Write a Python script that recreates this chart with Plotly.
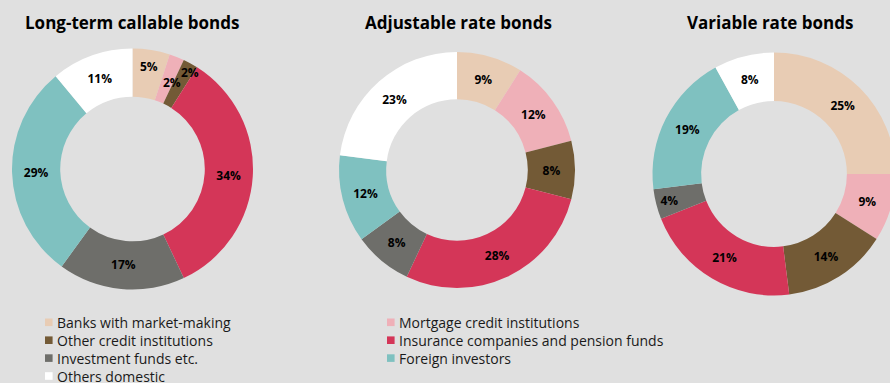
import math
import plotly.graph_objects as go

# Holder categories (same order in every donut, drawn clockwise from 12 o'clock)
categories = [
    "Banks with market-making",
    "Mortgage credit institutions",
    "Other credit institutions",
    "Insurance companies and pension funds",
    "Investment funds etc.",
    "Foreign investors",
    "Others domestic",
]
colors = ["#E8CCB4", "#EFB0B8", "#735A36", "#D43658", "#6E6E6A", "#7FC1C0", "#FFFFFF"]

titles = ["Long-term callable bonds", "Adjustable rate bonds", "Variable rate bonds"]
long_term_callable = [5, 2, 2, 34, 17, 29, 11]
adjustable_rate = [9, 12, 8, 28, 8, 12, 23]
variable_rate = [25, 9, 14, 21, 4, 19, 8]
series = [long_term_callable, adjustable_rate, variable_rate]

# Page geometry in pixels
W, H = 896, 383
BG = "#E0E0E0"
# (centre x, centre y, outer radius) of each donut
donuts = [(132.5, 169, 120.5), (457, 170, 118), (774, 174, 121.5)]
title_x = [132, 458, 770]
title_y = 23
# labels of thin slices placed by hand: (donut, slice) -> (radial factor, extra angle in degrees)
label_push = {(0, 1): (0.785, 3.0), (0, 2): (0.935, 2.0)}

LABEL_FONT = dict(family="Open Sans", size=12, color="#000000", weight="bold")


def px_x(x):
    return x / W


def px_y(y):
    return 1 - y / H


fig = go.Figure()
annotations = []

for d, (vals, (cx, cy, r)) in enumerate(zip(series, donuts)):
    texts = []
    for i, v in enumerate(vals):
        texts.append("" if (d, i) in label_push else f"{v}%")
    fig.add_trace(go.Pie(
        labels=categories,
        values=vals,
        text=texts,
        textinfo="text",
        textposition="inside",
        insidetextorientation="horizontal",
        textfont=LABEL_FONT,
        sort=False,
        direction="clockwise",
        rotation=0,
        hole=0.6,
        marker=dict(colors=colors, line=dict(width=0)),
        showlegend=False,
        hoverinfo="label+percent",
        domain=dict(x=[px_x(cx - r), px_x(cx + r)], y=[px_y(cy + r), px_y(cy - r)]),
    ))

    # hand-placed labels, positioned from the slice's mid angle
    total = sum(vals)
    cum = 0
    for i, v in enumerate(vals):
        if (d, i) in label_push:
            rf, dang = label_push[(d, i)]
            theta = 2 * math.pi * (cum + v / 2) / total + math.radians(dang)
            rr = r * rf
            annotations.append(dict(
                x=px_x(cx + rr * math.sin(theta)), y=px_y(cy - rr * math.cos(theta)),
                xref="paper", yref="paper", text=f"{v}%", showarrow=False,
                xanchor="center", yanchor="middle", font=LABEL_FONT,
            ))
        cum += v

    annotations.append(dict(
        x=px_x(title_x[d]), y=px_y(title_y), xref="paper", yref="paper",
        text=titles[d], showarrow=False, xanchor="center", yanchor="middle",
        font=dict(family="Open Sans", size=17, color="#000000", weight="bold"),
    ))

# Legend: two columns, filled row by row
leg_col_x = [45, 387]
leg_row_y0, leg_row_dy = 322.3, 17.9
sq = 7.6
shapes = []
for k, (name, col) in enumerate(zip(categories, colors)):
    lx = leg_col_x[k % 2]
    ly = leg_row_y0 + (k // 2) * leg_row_dy
    shapes.append(dict(
        type="rect", xref="paper", yref="paper",
        x0=px_x(lx), x1=px_x(lx + sq), y0=px_y(ly + sq / 2), y1=px_y(ly - sq / 2),
        fillcolor=col, line=dict(width=0),
    ))
    annotations.append(dict(
        x=px_x(lx + sq + 2.5), y=px_y(ly), xref="paper", yref="paper",
        text=name, showarrow=False, xanchor="left", yanchor="middle",
        font=dict(family="Open Sans", size=14, color="#1A1A1A"),
    ))

fig.update_layout(
    width=W, height=H,
    margin=dict(l=0, r=0, t=0, b=0),
    paper_bgcolor=BG, plot_bgcolor=BG,
    uniformtext=dict(minsize=12, mode="show"),
    annotations=annotations,
    shapes=shapes,
)

fig.write_html(
    "out.html",
    post_script=(
        "document.body.style.margin='0';"
        "document.body.style.overflow='hidden';"
        "document.documentElement.style.overflow='hidden';"
    ),
)
